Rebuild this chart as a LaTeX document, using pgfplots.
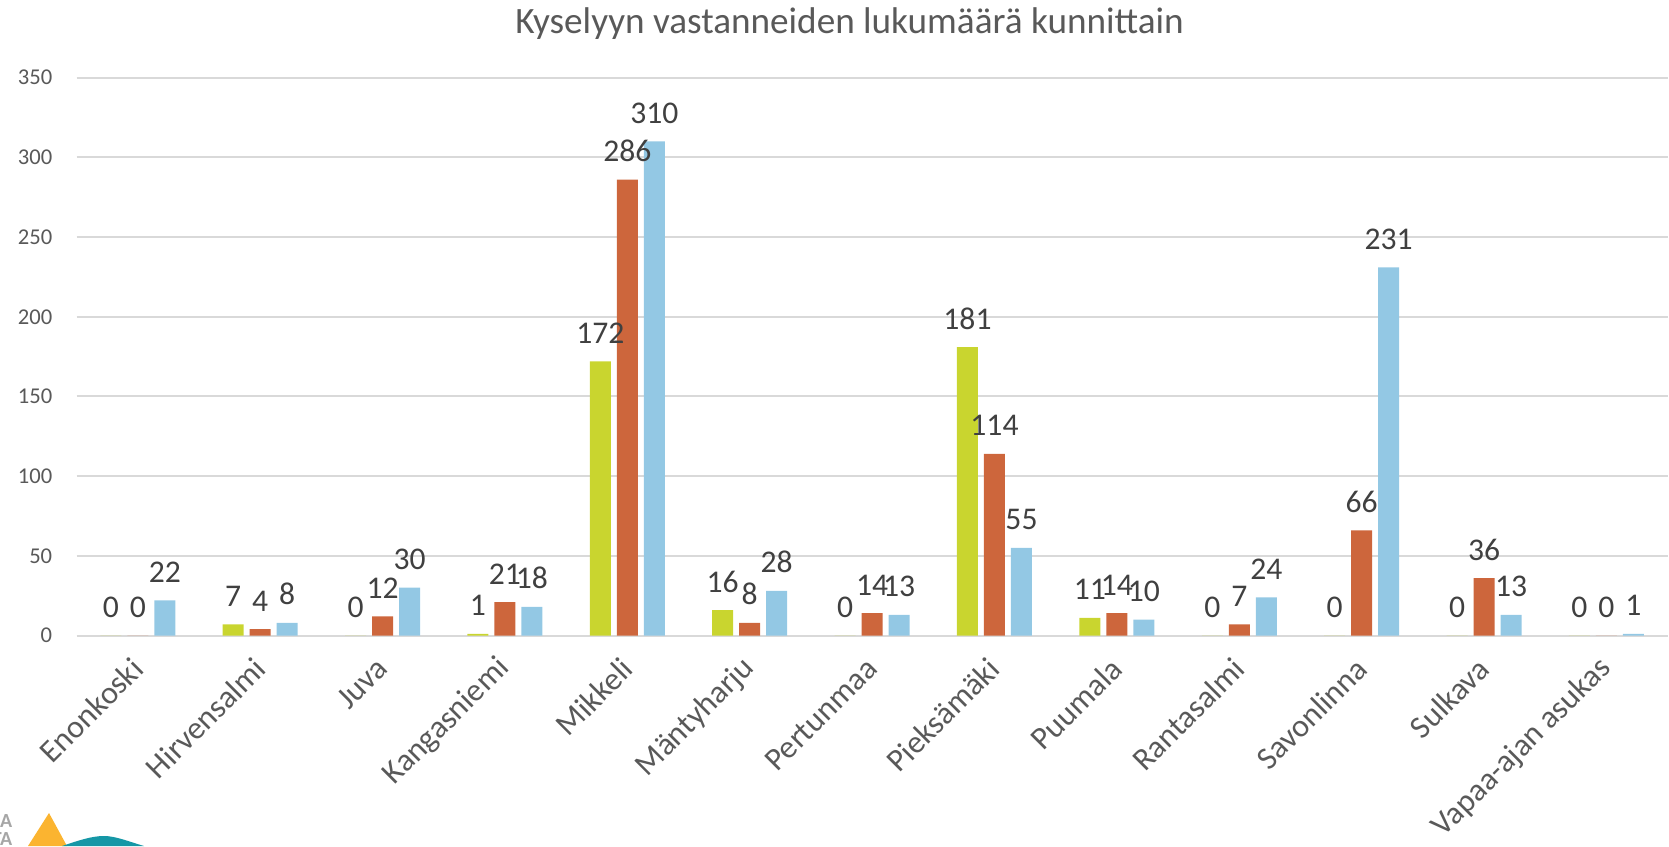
\documentclass[border=0pt]{standalone}
\usepackage{pgfplots}
\pgfplotsset{compat=1.18}
\usepackage{fontspec}
\setmainfont{Carlito}
\definecolor{cyel}{HTML}{C9D52F}
\definecolor{corg}{HTML}{CD663C}
\definecolor{cblu}{HTML}{93C8E4}
\definecolor{cgrid}{HTML}{D9D9D9}
\definecolor{ctxt}{HTML}{595959}
\definecolor{clab}{HTML}{404040}
\definecolor{clogoy}{HTML}{FBB430}
\definecolor{clogot}{HTML}{1597A6}
\begin{document}
\begin{tikzpicture}
\useasboundingbox (0,0) rectangle (834.5pt,423pt);
\begin{axis}[
  at={(38.3pt,105.25pt)}, anchor=south west,
  scale only axis, width=795.5pt, height=278.9pt,
  xmin=-0.5, xmax=12.5, ymin=0, ymax=350,
  ybar=3pt, bar width=10.5pt,
  axis line style={draw=none},
  major tick length=0pt,
  ytick={0,50,...,350},
  xtick={0,...,12},
  xticklabels={Enonkoski,Hirvensalmi,Juva,Kangasniemi,Mikkeli,Mäntyharju,Pertunmaa,Pieksämäki,Puumala,Rantasalmi,Savonlinna,Sulkava,Vapaa-ajan asukas},
  ymajorgrids, major grid style={draw=cgrid, line width=1pt},
  /pgf/number format/assume math mode=true,
  yticklabel style={font=\fontsize{11.3}{13}\selectfont, text=ctxt, anchor=east, inner sep=0pt, xshift=-12pt},
  xticklabel style={font=\fontsize{16}{19}\selectfont, text=ctxt, xshift=0pt, yshift=-14pt, rotate=45, anchor=east, inner sep=0pt},
  nodes near coords,
  every node near coord/.append style={font=\fontsize{15.8}{18}\selectfont, text=clab, anchor=base, yshift=9pt, inner sep=0pt},
  clip=false,
]
\addplot[fill=cyel, draw=none] coordinates {(0,0) (1,7) (2,0) (3,1) (4,172) (5,16) (6,0) (7,181) (8,11) (9,0) (10,0) (11,0) (12,0)};
\addplot[fill=corg, draw=none] coordinates {(0,0) (1,4) (2,12) (3,21) (4,286) (5,8) (6,14) (7,114) (8,14) (9,7) (10,66) (11,36) (12,0)};
\addplot[fill=cblu, draw=none] coordinates {(0,22) (1,8) (2,30) (3,18) (4,310) (5,28) (6,13) (7,55) (8,10) (9,24) (10,231) (11,13) (12,1)};
\end{axis}
\node[font=\fontsize{18.6}{22}\selectfont, text=ctxt, anchor=base] at (424.75pt,406.3pt) {Kyselyyn vastanneiden lukumäärä kunnittain};
% logo fragment
\fill[clogoy] (14pt,0pt) -- (24.5pt,16.5pt) -- (33.5pt,0pt) -- cycle;
\fill[clogot] (31pt,0pt) .. controls (40pt,3pt) and (46pt,5pt) .. (52pt,5pt) .. controls (58pt,5pt) and (65pt,2pt) .. (72pt,0pt) -- cycle;
\node[font=\bfseries\fontsize{10}{10}\selectfont, text=gray!70, anchor=base east, inner sep=0pt] at (6.3pt,9.5pt) {LA};
\node[font=\bfseries\fontsize{10}{10}\selectfont, text=gray!70, anchor=base east, inner sep=0pt] at (6.3pt,0.5pt) {TA};
\end{tikzpicture}
\end{document}
